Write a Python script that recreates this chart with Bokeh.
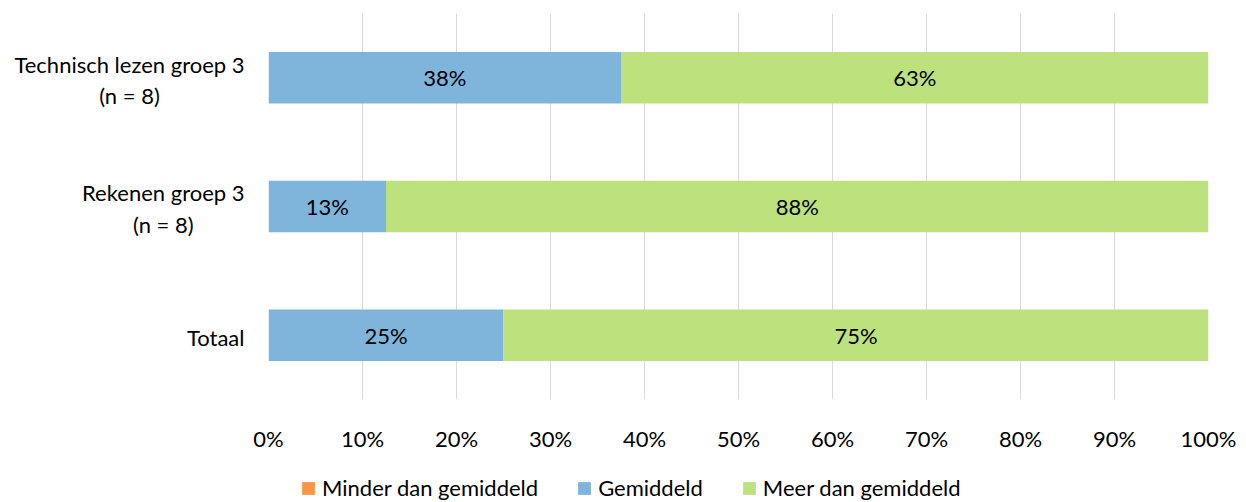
import math
from bokeh.plotting import figure
from bokeh.layouts import row, column
from bokeh.models import (ColumnDataSource, FactorRange, Range1d, NumeralTickFormatter, FixedTicker,
                          Legend, LegendItem)
from bokeh.core.properties import value
from bokeh.embed import file_html
from bokeh.resources import INLINE

categories = ["Technisch lezen groep 3\n(n = 8)", "Rekenen groep 3\n(n = 8)", "Totaal"]
series_names = ["Minder dan gemiddeld", "Gemiddeld", "Meer dan gemiddeld"]
minder = [0.0, 0.0, 0.0]
gemiddeld = [0.375, 0.125, 0.25]
meer = [0.625, 0.875, 0.75]
colors = ["#F79646", "#7FB5DB", "#BDE17D"]
x_ticks = [0.0, 0.1, 0.2, 0.3, 0.4, 0.5, 0.6, 0.7, 0.8, 0.9, 1.0]

FONT = "Lato"
FS = "22px"

y_range = FactorRange(*list(reversed(categories)), range_padding=0)
source = ColumnDataSource(dict(cat=categories, minder=minder, gemiddeld=gemiddeld, meer=meer))

# ---- main chart ----
p = figure(width=992, height=454, output_backend="svg", toolbar_location=None,
           y_range=y_range, x_range=Range1d(0, 1),
           min_border_left=20, min_border_right=32, min_border_top=13, min_border_bottom=48)
p.outline_line_color = None

renderers = p.hbar_stack(["minder", "gemiddeld", "meer"], y="cat", height=0.4, color=colors,
                         line_color=None, source=source)

lab_x, lab_y, lab_t = [], [], []
for i, c in enumerate(categories):
    start = minder[i]
    for v in (gemiddeld[i], meer[i]):
        if v > 0:
            lab_x.append(start + v / 2)
            lab_y.append(c)
            lab_t.append(f"{math.floor(v * 100 + 0.5)}%")
        start += v
p.text(x=lab_x, y=lab_y, text=lab_t, text_align="center", text_baseline="middle",
       text_font=value(FONT), text_font_size=FS, text_color="#000000")

p.xaxis.ticker = FixedTicker(ticks=x_ticks)
p.xaxis.formatter = NumeralTickFormatter(format="0%")
p.xgrid.ticker = FixedTicker(ticks=x_ticks)
p.xgrid.grid_line_color = "#D9D9D9"
p.xgrid.grid_line_width = 1
p.ygrid.grid_line_color = None
p.yaxis.visible = False

ax = p.xaxis[0]
ax.axis_line_color = None
ax.major_tick_line_color = None
ax.minor_tick_line_color = None
ax.major_label_text_font = FONT
ax.major_label_text_font_size = FS
ax.major_label_text_color = "#000000"
ax.major_label_standoff = 19

# ---- category labels (lines centred, block right-aligned) ----
pl = figure(width=248, height=454, output_backend="svg", toolbar_location=None,
            y_range=y_range, x_range=Range1d(0, 1), x_axis_location=None, y_axis_location=None,
            min_border_left=0, min_border_right=0, min_border_top=13, min_border_bottom=48)
pl.outline_line_color = None
pl.grid.visible = False
pl.text(x=[1] * len(categories), y=categories, text=categories,
        anchor=value("center_right"), text_align="center", text_baseline="middle",
        x_offset=-4, y_offset=2, text_line_height=1.15,
        text_font=value(FONT), text_font_size=FS, text_color="#000000")

# ---- legend strip ----
pg = figure(width=1240, height=46, output_backend="svg", toolbar_location=None,
            x_range=Range1d(0, 1), y_range=Range1d(0, 1), x_axis_location=None, y_axis_location=None,
            min_border=0)
pg.outline_line_color = None
pg.grid.visible = False
dummies = []
for c in colors:
    # a single zero-width bar placed outside the visible range: only its legend swatch shows
    dummies.append(pg.hbar(y=[-1], left=[0], right=[0], height=0.4, color=c, line_color=None))
legend = Legend(items=[LegendItem(label=n, renderers=[r]) for n, r in zip(series_names, dummies)],
                orientation="horizontal", location=(300, -1),
                glyph_width=16, glyph_height=16, label_height=22, label_standoff=6, spacing=38,
                padding=0, margin=0, border_line_color=None, background_fill_alpha=0,
                label_text_font=FONT, label_text_font_size=FS, label_text_color="#000000")
pg.add_layout(legend, "center")

layout = column(row(pl, p, spacing=0), pg, spacing=0)
open("out.html", "w").write(file_html(layout, INLINE))
